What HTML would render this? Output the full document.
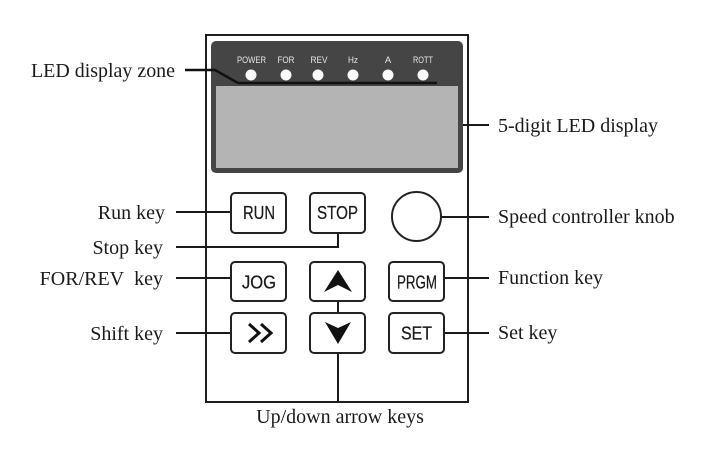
<!DOCTYPE html>
<html>
<head>
<meta charset="utf-8">
<style>
  html,body{margin:0;padding:0;background:#fff;}
  svg{display:block;}
  .lbl{font-family:"Liberation Serif",serif;font-size:20px;fill:#1a1a1a;}
  .btn{font-family:"Liberation Sans",sans-serif;font-size:18px;fill:#1a1a1a;text-anchor:middle;stroke:#1a1a1a;stroke-width:0.25;}
  .led{font-family:"Liberation Sans",sans-serif;font-size:9.5px;fill:#e6e6e6;text-anchor:middle;}
</style>
</head>
<body>
<svg width="712" height="458" viewBox="0 0 712 458" xmlns="http://www.w3.org/2000/svg">
  <!-- outer panel -->
  <rect x="206" y="35" width="262" height="367" fill="#fff" stroke="#1e1e1e" stroke-width="2"/>

  <!-- display -->
  <rect x="211" y="41" width="252" height="132" rx="5" fill="#454545"/>
  <rect x="216" y="86" width="242" height="82" fill="#b4b4b4"/>

  <!-- LED labels and dots -->
  <text class="led" x="251.5" y="63" textLength="29" lengthAdjust="spacingAndGlyphs">POWER</text>
  <text class="led" x="286" y="63" textLength="17" lengthAdjust="spacingAndGlyphs">FOR</text>
  <text class="led" x="319" y="63" textLength="17" lengthAdjust="spacingAndGlyphs">REV</text>
  <text class="led" x="353" y="63" textLength="10" lengthAdjust="spacingAndGlyphs">Hz</text>
  <text class="led" x="388" y="63">A</text>
  <text class="led" x="423" y="63" textLength="20" lengthAdjust="spacingAndGlyphs">ROTT</text>
  <g fill="#fafafa">
    <circle cx="251" cy="75" r="5.5"/>
    <circle cx="286" cy="75" r="5.5"/>
    <circle cx="318" cy="75" r="5.5"/>
    <circle cx="353" cy="75" r="5.5"/>
    <circle cx="388" cy="75" r="5.5"/>
    <circle cx="423" cy="75" r="5.5"/>
  </g>

  <!-- leader lines -->
  <g fill="none" stroke="#1a1a1a" stroke-width="2">
    <polyline points="185,70 215,70 238,83 437,83" stroke-width="2.5" stroke="#111"/>
    <line x1="463" y1="125" x2="489" y2="125"/>
    <line x1="176" y1="212" x2="231" y2="212"/>
    <polyline points="176,247 338,247 338,233"/>
    <line x1="176" y1="278" x2="231" y2="278"/>
    <line x1="176" y1="333" x2="231" y2="333"/>
    <line x1="441" y1="217" x2="489" y2="217"/>
    <line x1="444" y1="278" x2="489" y2="278"/>
    <line x1="444" y1="333" x2="489" y2="333"/>
    <line x1="338" y1="301" x2="338" y2="313"/>
    <line x1="338" y1="353" x2="338" y2="402"/>
  </g>

  <!-- buttons -->
  <g fill="#fff" stroke="#222" stroke-width="2">
    <rect x="231" y="193" width="55" height="40" rx="4"/>
    <rect x="310" y="193" width="55" height="40" rx="4"/>
    <rect x="231" y="262" width="55" height="39" rx="4"/>
    <rect x="310" y="262" width="55" height="39" rx="4"/>
    <rect x="389" y="262" width="55" height="39" rx="4"/>
    <rect x="231" y="313" width="55" height="40" rx="4"/>
    <rect x="310" y="313" width="55" height="40" rx="4"/>
    <rect x="389" y="313" width="55" height="40" rx="4"/>
    <circle cx="416.5" cy="216.5" r="24.5"/>
  </g>

  <text class="btn" x="259" y="219" textLength="32" lengthAdjust="spacingAndGlyphs">RUN</text>
  <text class="btn" x="337.5" y="219" textLength="41" lengthAdjust="spacingAndGlyphs">STOP</text>
  <text class="btn" x="259" y="288.5" textLength="34" lengthAdjust="spacingAndGlyphs">JOG</text>
  <text class="btn" x="417" y="288.5" textLength="40" lengthAdjust="spacingAndGlyphs">PRGM</text>
  <text class="btn" x="416.5" y="339.5" textLength="31" lengthAdjust="spacingAndGlyphs">SET</text>

  <!-- arrows -->
  <path d="M338,270 L352,292 L338,285 L324,292 Z" fill="#111"/>
  <path d="M325,322 L338,328 L351,322 L338,344 Z" fill="#111"/>
  <g fill="none" stroke="#111" stroke-width="3" stroke-linejoin="miter">
    <polyline points="249,324 259,333 249,342"/>
    <polyline points="261,324 271,333 261,342"/>
  </g>

  <!-- labels -->
  <text class="lbl" x="31" y="77" textLength="144" lengthAdjust="spacingAndGlyphs">LED display zone</text>
  <text class="lbl" x="165" y="219" text-anchor="end">Run key</text>
  <text class="lbl" x="163" y="254" text-anchor="end">Stop key</text>
  <text class="lbl" x="163" y="285" text-anchor="end">FOR/REV&#160; key</text>
  <text class="lbl" x="163" y="340" text-anchor="end">Shift key</text>

  <text class="lbl" x="498" y="132">5-digit LED display</text>
  <text class="lbl" x="498" y="223">Speed controller knob</text>
  <text class="lbl" x="498" y="284">Function key</text>
  <text class="lbl" x="498" y="339">Set key</text>

  <text class="lbl" x="340" y="423" text-anchor="middle">Up/down arrow keys</text>
</svg>
</body>
</html>
